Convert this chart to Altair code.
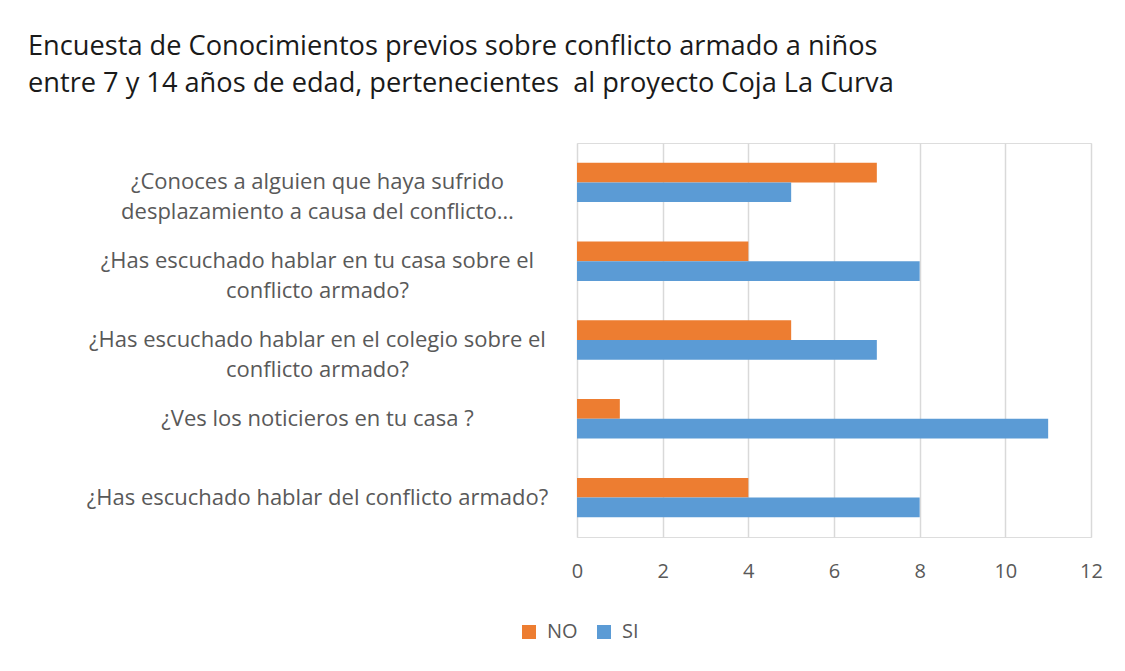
import altair as alt
import pandas as pd

preguntas = [
    "¿Conoces a alguien que haya sufrido|desplazamiento a causa del conflicto…",
    "¿Has escuchado hablar en tu casa sobre el|conflicto armado?",
    "¿Has escuchado hablar en el colegio sobre el|conflicto armado?",
    "¿Ves los noticieros en tu casa ?",
    "¿Has escuchado hablar del conflicto armado?",
]
valores_no = [7, 4, 5, 1, 4]
valores_si = [5, 8, 7, 11, 8]
series = ["NO", "SI"]
colores = ["#ED7D31", "#5B9BD5"]
x_ticks = [0, 2, 4, 6, 8, 10, 12]
titulo = [
    "\u00a0Encuesta de Conocimientos previos sobre conflicto armado a niños",
    "entre 7 y 14 años de edad, pertenecientes\u00a0 al proyecto Coja La Curva",
]

rows = []
for p, n, s in zip(preguntas, valores_no, valores_si):
    rows.append({"pregunta": p, "serie": "NO", "valor": n})
    rows.append({"pregunta": p, "serie": "SI", "valor": s})
df = pd.DataFrame(rows)

FONT = "Open Sans"
GRAY = "#595959"

chart = (
    alt.Chart(df)
    .mark_bar()
    .encode(
        y=alt.Y(
            "pregunta:N",
            sort=preguntas,
            scale=alt.Scale(paddingInner=0.5, paddingOuter=0.25),
            axis=alt.Axis(
                title=None,
                labelExpr="split(datum.label, '|')",
                labelAlign="center",
                labelPadding=260,
                ticks=False,
                domain=False,
                labelFontSize=22,
                labelColor=GRAY,
                labelFont=FONT,
                labelLineHeight=30,
                labelLimit=0,
            ),
        ),
        yOffset=alt.YOffset("serie:N", sort=series),
        x=alt.X(
            "valor:Q",
            scale=alt.Scale(domain=[0, 12], nice=False),
            axis=alt.Axis(
                values=x_ticks,
                title=None,
                domain=False,
                ticks=False,
                grid=True,
                gridColor="#D9D9D9",
                gridWidth=1.5,
                labelFontSize=20,
                labelColor=GRAY,
                labelFont=FONT,
                labelPadding=24,
                labelFlush=False,
            ),
        ),
        color=alt.Color(
            "serie:N",
            scale=alt.Scale(domain=series, range=colores),
            legend=alt.Legend(
                title=None,
                orient="none",
                legendX=-58,
                legendY=479,
                direction="horizontal",
                symbolType="square",
                symbolSize=196,
                symbolStrokeWidth=0,
                labelFontSize=20,
                labelFont=FONT,
                labelColor=GRAY,
                labelOffset=8,
                columnPadding=16,
            ),
        ),
    )
    .properties(
        width=514,
        height=394,
        autosize=alt.AutoSizeParams(type="none"),
        padding={"left": 569, "top": 135, "right": 20, "bottom": 120},
        title=alt.TitleParams(
            text=titulo,
            anchor="start",
            frame="group",
            dx=-549,
            offset=45,
            fontSize=27.2,
            font=FONT,
            fontWeight="normal",
            color="#1a1a1a",
            lineHeight=37,
        ),
    )
    .configure_view(strokeWidth=0)
    .configure(background="white")
)

chart.save("out.html", embed_options={"renderer": "svg", "actions": False})
